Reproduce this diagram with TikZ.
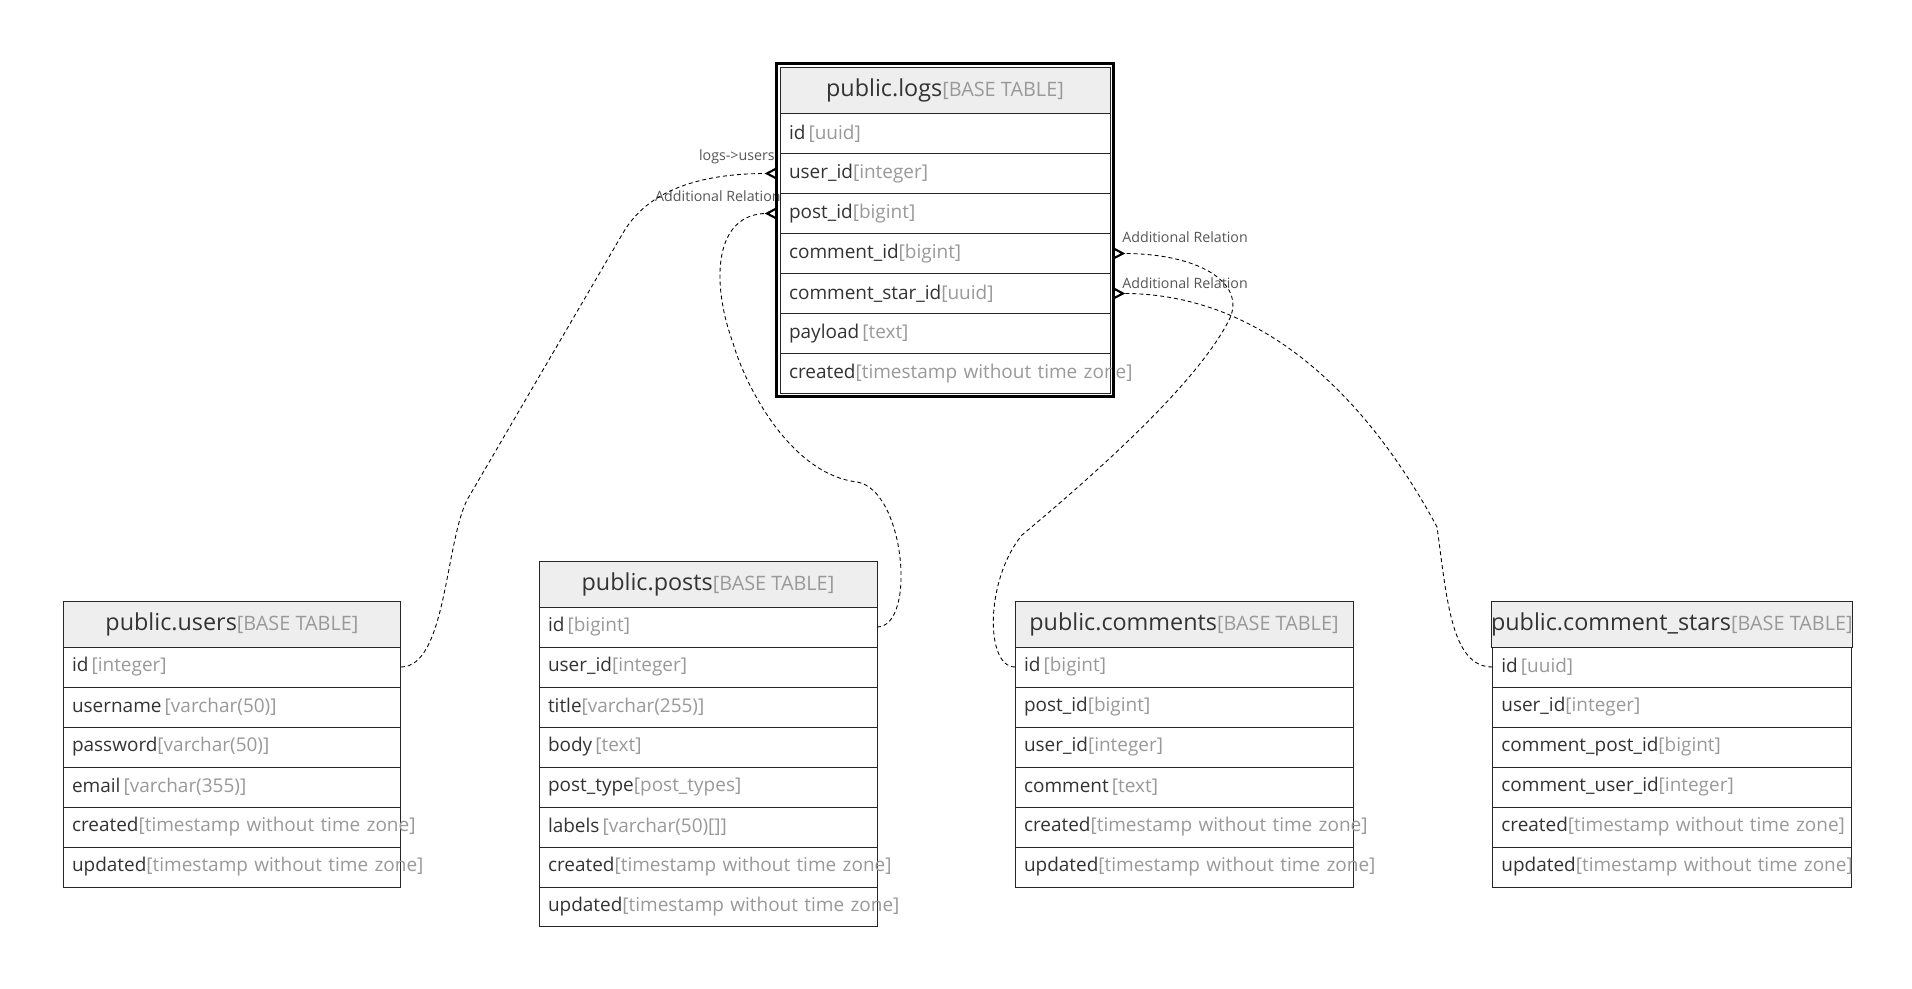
\documentclass[tikz,border=0pt]{standalone}
\usepackage{fontspec}
\setmainfont{Open Sans}
\usetikzlibrary{arrows.meta, positioning, backgrounds}

\definecolor{namec}{HTML}{333333}
\definecolor{typec}{HTML}{999999}
\definecolor{headc}{HTML}{EEEEEE}
\definecolor{relc}{HTML}{555555}

\newcommand{\fld}[2]{\mbox{\textcolor{namec}{#1}\textcolor{typec}{#2}}}
\newcommand{\tbl}[1]{{\fontsize{13.3}{16}\selectfont\color{namec}#1}{\fontsize{11.3}{14}\selectfont\color{typec}[BASE TABLE]}}

\begin{document}
\begin{tikzpicture}[
  x=0.02cm, y=-0.02cm,
  head/.style={draw=black!85, fill=headc, anchor=north west, minimum width=#1, minimum height=0.92cm, inner sep=0pt, outer sep=0pt, line width=0.5pt},
  row/.style={draw=black!85, fill=white, text width=#1, minimum height=0.8cm, inner xsep=0.18cm, inner ysep=0pt, outer sep=0pt, align=left, line width=0.5pt, font=\fontsize{10.8}{13}\selectfont},
  rel/.style={draw=black, dash pattern=on 0.8mm off 0.6mm, line width=0.5pt},
  many/.style={-{Straight Barb[reversed, length=1.8mm, width=1.9mm, line width=1.2pt]}},
  lbl/.style={font=\fontsize{8.1}{10}\selectfont, text=relc, inner sep=0pt}
]
\useasboundingbox (0,0) rectangle (1912,989);

% public.logs
\node[head=6.6cm] (logs) at (780,67.5) {\tbl{public.logs}};
\node[row=6.24cm, below=0pt of logs]           (logs-id)        {\fld{id\,}{[uuid]}};
\node[row=6.24cm, below=0pt of logs-id]        (logs-userid)    {\fld{user\_id}{[integer]}};
\node[row=6.24cm, below=0pt of logs-userid]    (logs-postid)    {\fld{post\_id}{[bigint]}};
\node[row=6.24cm, below=0pt of logs-postid]    (logs-commentid) {\fld{comment\_id}{[bigint]}};
\node[row=6.24cm, below=0pt of logs-commentid] (logs-starid)    {\fld{comment\_star\_id}{[uuid]}};
\node[row=6.24cm, below=0pt of logs-starid]    (logs-payload)   {\fld{payload\,}{[text]}};
\node[row=6.24cm, below=0pt of logs-payload]   (logs-created)   {\fld{created}{[timestamp without time zone]}};
\draw[line width=0.6mm] ([shift={(-3.5,-3.5)}]logs.north west) rectangle ([shift={(3.5,3)}]logs-created.south east);

% public.users
\node[head=6.76cm] (users) at (63,601) {\tbl{public.users}};
\node[row=6.4cm, below=0pt of users]          (users-id)       {\fld{id\,}{[integer]}};
\node[row=6.4cm, below=0pt of users-id]       (users-username) {\fld{username\,}{[varchar(50)]}};
\node[row=6.4cm, below=0pt of users-username] (users-password) {\fld{password}{[varchar(50)]}};
\node[row=6.4cm, below=0pt of users-password] (users-email)    {\fld{email\,}{[varchar(355)]}};
\node[row=6.4cm, below=0pt of users-email]    (users-created)  {\fld{created}{[timestamp without time zone]}};
\node[row=6.4cm, below=0pt of users-created]  (users-updated)  {\fld{updated}{[timestamp without time zone]}};

% public.posts
\node[head=6.76cm] (posts) at (539,561) {\tbl{public.posts}};
\node[row=6.4cm, below=0pt of posts]         (posts-id)      {\fld{id\,}{[bigint]}};
\node[row=6.4cm, below=0pt of posts-id]      (posts-userid)  {\fld{user\_id}{[integer]}};
\node[row=6.4cm, below=0pt of posts-userid]  (posts-title)   {\fld{title}{[varchar(255)]}};
\node[row=6.4cm, below=0pt of posts-title]   (posts-body)    {\fld{body\,}{[text]}};
\node[row=6.4cm, below=0pt of posts-body]    (posts-type)    {\fld{post\_type}{[post\_types]}};
\node[row=6.4cm, below=0pt of posts-type]    (posts-labels)  {\fld{labels\,}{[varchar(50)[]]}};
\node[row=6.4cm, below=0pt of posts-labels]  (posts-created) {\fld{created}{[timestamp without time zone]}};
\node[row=6.4cm, below=0pt of posts-created] (posts-updated) {\fld{updated}{[timestamp without time zone]}};

% public.comments
\node[head=6.76cm] (comments) at (1015,601) {\tbl{public.comments}};
\node[row=6.4cm, below=0pt of comments]         (comments-id)      {\fld{id\,}{[bigint]}};
\node[row=6.4cm, below=0pt of comments-id]      (comments-postid)  {\fld{post\_id}{[bigint]}};
\node[row=6.4cm, below=0pt of comments-postid]  (comments-userid)  {\fld{user\_id}{[integer]}};
\node[row=6.4cm, below=0pt of comments-userid]  (comments-comment) {\fld{comment\,}{[text]}};
\node[row=6.4cm, below=0pt of comments-comment] (comments-created) {\fld{created}{[timestamp without time zone]}};
\node[row=6.4cm, below=0pt of comments-created] (comments-updated) {\fld{updated}{[timestamp without time zone]}};

% public.comment_stars
\node[head=7.18cm] (stars) at (1491,601) {\tbl{public.comment\_stars}};
\node[row=6.82cm, below=0pt of stars]         (stars-id)      {\fld{id\,}{[uuid]}};
\node[row=6.82cm, below=0pt of stars-id]      (stars-userid)  {\fld{user\_id}{[integer]}};
\node[row=6.82cm, below=0pt of stars-userid]  (stars-postid)  {\fld{comment\_post\_id}{[bigint]}};
\node[row=6.82cm, below=0pt of stars-postid]  (stars-cuserid) {\fld{comment\_user\_id}{[integer]}};
\node[row=6.82cm, below=0pt of stars-cuserid] (stars-created) {\fld{created}{[timestamp without time zone]}};
\node[row=6.82cm, below=0pt of stars-created] (stars-updated) {\fld{updated}{[timestamp without time zone]}};

% relation labels
\begin{scope}[on background layer]
\node[lbl, anchor=east] (lbl-users) at ([shift={(-5,-17)}]logs-userid.west) {logs->users};
\node[lbl, anchor=east] (lbl-posts) at ([shift={(1,-17)}]logs-postid.west) {Additional Relation};
\end{scope}
\node[lbl, anchor=west] (lbl-comments) at ([shift={(12,-16.5)}]logs-commentid.east) {Additional Relation};
\node[lbl, anchor=west] (lbl-stars) at ([shift={(12,-10)}]logs-starid.east) {Additional Relation};

% relations
\draw[rel, many] (users-id.east) .. controls +(45,0) and +(-22,45) .. (467,500) -- (623,233)
  .. controls +(25,-43) and +(-77,0) .. ([shift={(-3,0)}]logs-userid.west);
\draw[rel, many] (posts-id.east) .. controls +(40,0) and +(48,8) .. (857,482)
  .. controls +(-67,-8) and +(12,42) .. (733,343)
  .. controls +(-23,-63) and +(-62,0) .. ([shift={(-3,0)}]logs-postid.west);
\draw[rel, many] (comments-id.west) .. controls +(-30,0) and +(-37,45) .. (1022,535)
  .. controls +(78,-65) and +(-30,62) .. (1230,318)
  .. controls +(15,-35) and +(87,0) .. ([shift={(3,0)}]logs-commentid.east);
\draw[rel, many] (stars-id.west) .. controls +(-41,0) and +(10,73) .. (1437,527)
  .. controls +(-47,-87) and +(177,0) .. ([shift={(3,0)}]logs-starid.east);

\end{tikzpicture}
\end{document}
